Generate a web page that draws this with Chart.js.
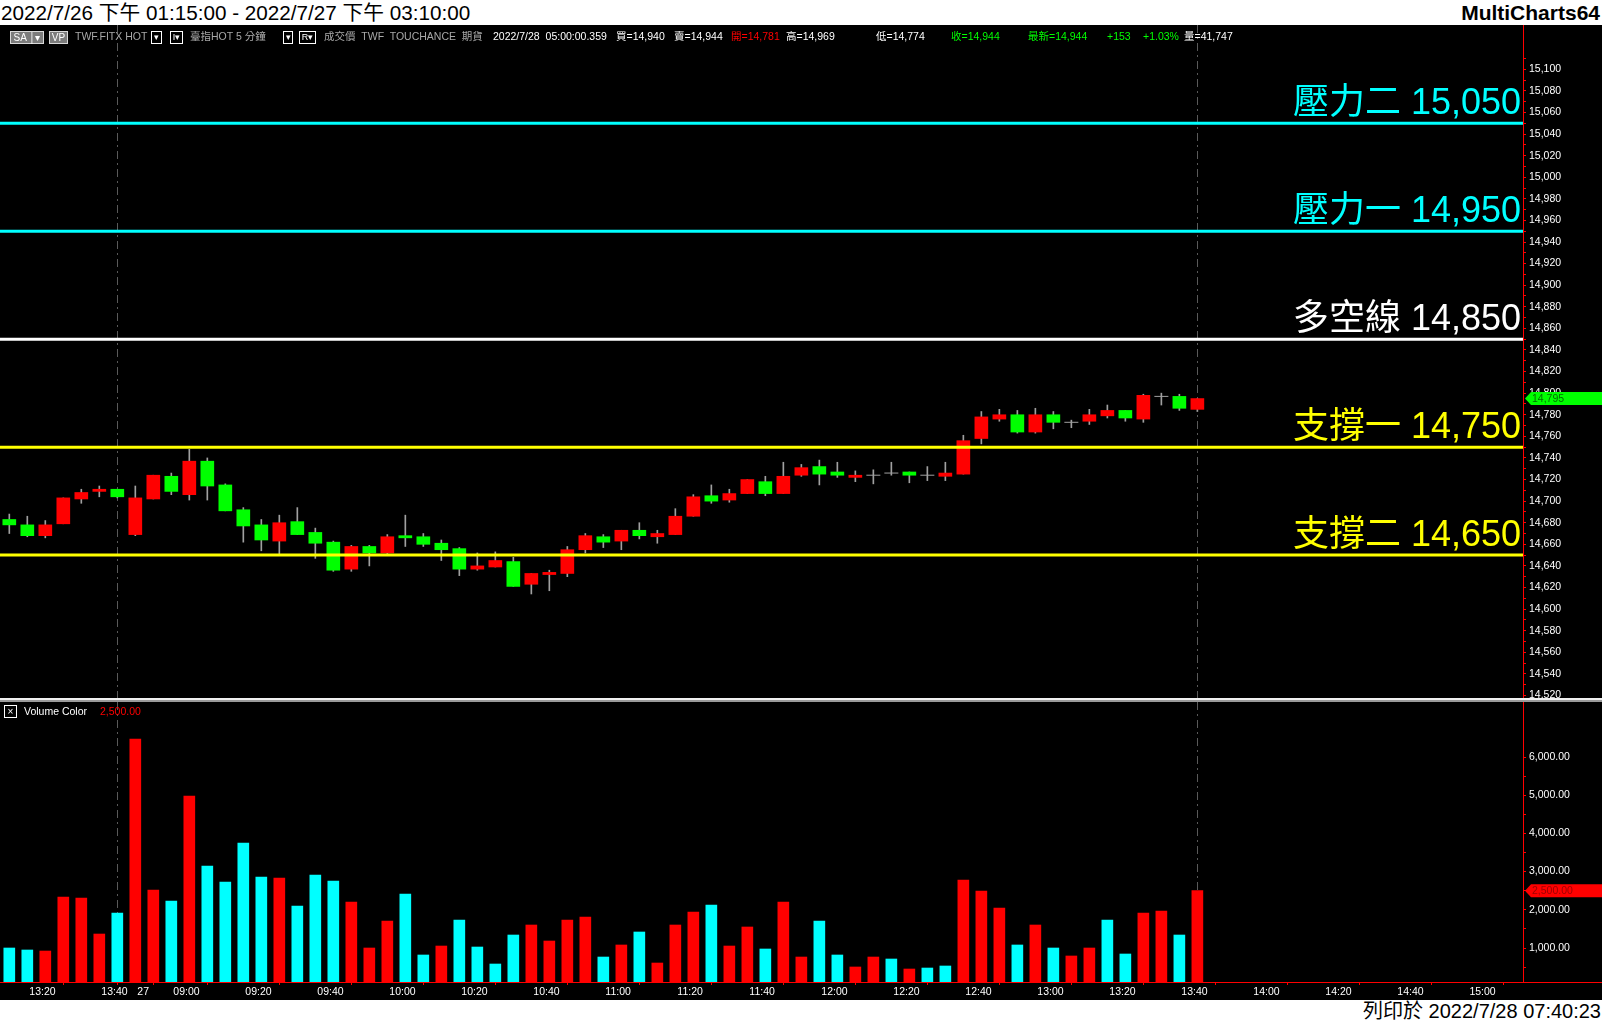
<!DOCTYPE html>
<html><head><meta charset="utf-8">
<script src="https://cdn.jsdelivr.net/npm/chart.js@4.4.1/dist/chart.umd.min.js"></script>
<style>
html,body{margin:0;padding:0;background:#fff;}
#page{position:relative;width:1602px;height:1023px;overflow:hidden;background:#fff;font-family:"Liberation Sans","Noto Sans CJK TC",sans-serif;}
#black{position:absolute;left:0;top:25px;width:1602px;height:975px;background:#000;}
#title{position:absolute;left:1px;top:0;height:25px;line-height:25px;font-size:20.7px;color:#000;white-space:nowrap;}
#brand{position:absolute;right:2px;top:0;height:25px;line-height:25px;font-size:21px;font-weight:bold;color:#000;white-space:nowrap;}
#printed{position:absolute;right:1px;top:1000px;height:23px;line-height:23px;font-size:20px;color:#000;white-space:nowrap;}
#cp{position:absolute;left:0;top:25px;}
#cv{position:absolute;left:0;top:702px;}
#sep1{position:absolute;left:0;top:698px;width:1602px;height:2px;background:#f0f0f0;}
#sep2{position:absolute;left:0;top:700px;width:1602px;height:2px;background:#9a9a9a;}
.tt{position:absolute;top:30px;font-size:10.5px;line-height:13px;white-space:nowrap;color:#a8a8a8;}
.gbox{position:absolute;top:31px;height:11px;background:#7c7c7c;border:1px solid #d8d8d8;color:#fff;font-size:10px;line-height:11px;text-align:center;white-space:nowrap;}
.wbox{position:absolute;top:31px;height:11px;border:1px solid #fff;color:#fff;font-size:9px;line-height:11px;text-align:center;white-space:nowrap;}
.w{color:#fff}.r{color:#ff0000}.g{color:#00ff00}
#vlab{position:absolute;left:24px;top:705px;font-size:10.5px;line-height:13px;color:#fff;white-space:nowrap;}
#vval{position:absolute;left:100px;top:705px;font-size:10.5px;line-height:13px;color:#ff0000;white-space:nowrap;}
#vbox{position:absolute;left:4px;top:705px;width:11px;height:11px;border:1px solid #fff;color:#fff;font-size:10px;line-height:11px;text-align:center;}
</style></head>
<body>
<div id="page">
  <div id="black"></div>
  <div id="title">2022/7/26 下午 01:15:00 - 2022/7/27 下午 03:10:00</div>
  <div id="brand">MultiCharts64</div>
  <canvas id="cp" width="1602" height="673"></canvas>
  <div id="sep1"></div><div id="sep2"></div>
  <canvas id="cv" width="1602" height="298"></canvas>
  <div id="printed">列印於 2022/7/28 07:40:23</div>

  <div class="gbox" style="left:10px;width:32px;">SA │▾</div>
  <div class="gbox" style="left:49px;width:17px;">VP</div>
  <div class="tt" style="left:75px;">TWF.FITX HOT</div>
  <div class="wbox" style="left:151px;width:9px;">▾</div>
  <div class="wbox" style="left:170px;width:11px;">I▾</div>
  <div class="tt" style="left:190px;">臺指HOT 5 分鐘</div>
  <div class="wbox" style="left:283px;width:8px;">▾</div>
  <div class="wbox" style="left:299px;width:15px;">R▾</div>
  <div class="tt" style="left:324px;">成交價&nbsp; TWF&nbsp; TOUCHANCE&nbsp; 期貨</div>
  <div class="tt w" style="left:493px;">2022/7/28&nbsp; 05:00:00.359</div>
  <div class="tt w" style="left:616px;">買=14,940</div>
  <div class="tt w" style="left:674px;">賣=14,944</div>
  <div class="tt r" style="left:731px;">開=14,781</div>
  <div class="tt w" style="left:786px;">高=14,969</div>
  <div class="tt w" style="left:876px;">低=14,774</div>
  <div class="tt g" style="left:951px;">收=14,944</div>
  <div class="tt g" style="left:1028px;">最新=14,944</div>
  <div class="tt g" style="left:1107px;">+153</div>
  <div class="tt g" style="left:1143px;">+1.03%</div>
  <div class="tt w" style="left:1184px;">量=41,747</div>

  <div id="vbox">×</div>
  <div id="vlab">Volume Color</div>
  <div id="vval">2,500.00</div>
</div>
<script>
// ---------- DATA (5-minute bars, index 0 = 7/26 13:15) ----------
const opens  = [14683,14678,14668,14679,14702,14709,14711,14669,14702,14723,
                14706,14737,14715,14692,14678,14663,14681,14671,14662,14637,
                14658,14652,14668,14667,14661,14656,14637,14639,14644,14623,
                14632,14633,14655,14667,14663,14673,14667,14669,14686,14705,
                14701,14707,14718,14707,14724,14732,14727,14722,14724,14726,
                14727,14724,14723,14725,14758,14776,14780,14764,14780,14773,
                14774,14779,14784,14776,14797,14797,14785];
const highs  = [14688,14686,14682,14703,14711,14714,14711,14714,14724,14726,
                14748,14740,14716,14694,14683,14687,14694,14675,14663,14659,
                14659,14669,14687,14670,14664,14657,14652,14653,14648,14633,
                14636,14658,14670,14669,14673,14680,14673,14693,14706,14715,
                14711,14720,14723,14736,14734,14738,14736,14728,14729,14736,
                14727,14732,14736,14761,14783,14785,14784,14786,14783,14775,
                14785,14789,14784,14799,14800,14799,14795];
const lows   = [14670,14667,14666,14679,14698,14704,14703,14668,14702,14706,
                14701,14701,14691,14662,14654,14651,14669,14647,14635,14635,
                14640,14651,14658,14658,14645,14631,14636,14639,14621,14614,
                14617,14630,14652,14657,14655,14665,14661,14669,14686,14698,
                14699,14707,14705,14707,14723,14715,14722,14718,14716,14724,
                14717,14719,14719,14725,14753,14774,14763,14763,14767,14768,
                14771,14777,14774,14773,14789,14784,14783];
const closes = [14678,14668,14678,14703,14708,14711,14704,14703,14724,14709,
                14737,14714,14691,14677,14664,14680,14669,14661,14636,14658,
                14652,14667,14666,14660,14655,14637,14640,14645,14621,14633,
                14634,14655,14668,14662,14673,14668,14670,14686,14704,14700,
                14707,14720,14707,14723,14731,14725,14724,14724,14724,14726,
                14724,14724,14726,14756,14778,14780,14764,14780,14773,14773,
                14780,14784,14777,14798,14797,14786,14795];
const volumes = [1000,948,921,2335,2309,1366,1916,6471,2518,2230,
                 4979,3147,2728,3749,2859,2832,2099,2911,2754,2204,
                 1000,1707,2414,817,1052,1733,1026,581,1340,1602,
                 1183,1733,1812,764,1079,1419,607,1602,1942,2126,
                 1052,1550,974,2204,764,1707,817,503,764,712,
                 450,476,529,2780,2492,2047,1079,1602,1000,791,
                 1000,1733,843,1916,1969,1340,2500];
// 1 = red (up volume), 0 = cyan (down volume)
const volumeUp = [0,0,1,1,1,1,0,1,1,0, 1,0,0,0,0,1,0,0,0,1,
                  1,1,0,0,1,0,0,0,0,1, 1,1,1,0,1,0,1,1,1,0,
                  1,1,0,1,1,0,0,1,1,0, 1,0,0,1,1,1,0,1,0,1,
                  1,0,0,1,1,0,1];
const tickIdx    = [1,5,7,9,13,17,21,25,29,33,37,41,45,49,53,57,61,65,69,73,77,81];
const tickLabels = ['13:20','13:40','27','09:00','09:20','09:40','10:00','10:20','10:40','11:00','11:20',
                    '11:40','12:00','12:20','12:40','13:00','13:20','13:40','14:00','14:20','14:40','15:00'];
const levelNames  = ['壓力二','壓力一','多空線','支撐一','支撐二'];
const levelValues = [15050,14950,14850,14750,14650];
const levelColors = ['#00ffff','#00ffff','#ffffff','#ffff00','#ffff00'];
const dividerIdx  = [6,66];
const priceTicks  = []; for (let v = 14520; v <= 15110; v += 10) priceTicks.push(v);
const volumeTicks = []; for (let v = 500; v <= 6000; v += 500) volumeTicks.push(v);

// ---------- view ----------
const X_MIN = -0.517, X_MAX = 84.09;
const P_MIN = 14517.65, P_MAX = 15141.0;
const V_MIN = 110, V_MAX = 7440;
const UP = '#ff0000', DN = '#00ff00', WICK = '#a0a0a0', AXIS = '#ff0000';
const FONT = 'Liberation Sans';
const fmt = v => v.toLocaleString('en-US');

const idx = closes.map((_, i) => i);
const wickData = idx.map(i => ({x: i, y: [lows[i], highs[i]]}));
const bodyIdx = idx.filter(i => opens[i] !== closes[i]);
const bodyData = bodyIdx.map(i => ({x: i, y: [opens[i], closes[i]]}));
const bodyColors = bodyIdx.map(i => closes[i] > opens[i] ? UP : DN);
const dojiData = idx.filter(i => opens[i] === closes[i]).map(i => ({x: i, y: closes[i]}));

function zeroPad(s) { s.paddingTop = 0; s.paddingBottom = 0; s.paddingLeft = 0; s.paddingRight = 0; }

const dividerPlugin = {
  id: 'dividers',
  beforeDatasetsDraw(chart) {
    const {ctx, chartArea: a, scales: {x}} = chart;
    ctx.save();
    ctx.strokeStyle = '#5a5a5a'; ctx.lineWidth = 1; ctx.setLineDash([8, 4, 2, 4]);
    dividerIdx.forEach(i => {
      const px = Math.round(x.getPixelForValue(i)) + 0.5;
      ctx.beginPath(); ctx.moveTo(px, a.top); ctx.lineTo(px, a.bottom); ctx.stroke();
    });
    ctx.restore();
  }
};

function drawMarker(chart, value, text, bg, fg) {
  const {ctx, chartArea: a, scales: {y}} = chart;
  const py = y.getPixelForValue(value);
  const x0 = a.right + 2, x1 = chart.width, h = 13;
  ctx.save();
  ctx.fillStyle = bg;
  ctx.beginPath();
  ctx.moveTo(x0, py); ctx.lineTo(x0 + 6, py - h / 2); ctx.lineTo(x1, py - h / 2);
  ctx.lineTo(x1, py + h / 2); ctx.lineTo(x0 + 6, py + h / 2); ctx.closePath(); ctx.fill();
  ctx.fillStyle = fg; ctx.font = '10.5px "' + FONT + '"';
  ctx.textAlign = 'left'; ctx.textBaseline = 'middle';
  ctx.fillText(text, x0 + 7, py + 0.5);
  ctx.restore();
}

const levelPlugin = {
  id: 'levels',
  afterDatasetsDraw(chart) {
    const {ctx, chartArea: a, scales: {y}} = chart;
    ctx.save();
    ctx.font = '36px "Liberation Sans","Noto Sans CJK TC"';
    ctx.textAlign = 'right'; ctx.textBaseline = 'alphabetic';
    levelValues.forEach((v, k) => {
      ctx.fillStyle = levelColors[k];
      ctx.fillText(levelNames[k] + ' ' + fmt(v), a.right - 2, y.getPixelForValue(v) - 9);
    });
    ctx.restore();
  },
  afterDraw(chart) {
    drawMarker(chart, closes[closes.length - 1], fmt(closes[closes.length - 1]), '#00ff00', '#007000');
  }
};

const volMarkerPlugin = {
  id: 'volmarker',
  afterDraw(chart) {
    const {ctx, chartArea: a} = chart;
    ctx.save(); ctx.strokeStyle = AXIS; ctx.lineWidth = 1;
    ctx.beginPath(); ctx.moveTo(a.right, Math.round(a.bottom) + 0.5); ctx.lineTo(chart.width, Math.round(a.bottom) + 0.5); ctx.stroke();
    ctx.restore();
    const last = volumes[volumes.length - 1];
    drawMarker(chart, last, last.toLocaleString('en-US', {minimumFractionDigits: 2}), '#ff0000', '#a00000');
  }
};

const yAxisCommon = {
  position: 'right',
  grid: {drawOnChartArea: false, color: AXIS, tickLength: 3, lineWidth: 1},
  border: {display: true, color: AXIS, width: 1},
  afterFit(s) { s.width = 79; zeroPad(s); }
};

// ---------- price chart ----------
new Chart(document.getElementById('cp'), {
  type: 'bar',
  data: {
    datasets: [
      {type: 'bar', data: wickData, backgroundColor: WICK, barThickness: 1, grouped: false, order: 4},
      {type: 'bar', data: bodyData, backgroundColor: bodyColors, barThickness: 13, grouped: false, order: 3},
      {type: 'scatter', data: dojiData, pointStyle: 'line', pointRadius: 7, borderColor: WICK, borderWidth: 1, order: 2},
      ...levelValues.map((v, k) => ({
        type: 'line', data: [{x: X_MIN, y: v}, {x: X_MAX, y: v}],
        borderColor: levelColors[k], borderWidth: 3, pointRadius: 0, order: 1
      }))
    ]
  },
  options: {
    responsive: false, animation: false, maintainAspectRatio: false,
    layout: {padding: 0, autoPadding: false},
    plugins: {legend: {display: false}, tooltip: {enabled: false}},
    scales: {
      x: {type: 'linear', min: X_MIN, max: X_MAX, display: false, offset: false},
      y: Object.assign({}, yAxisCommon, {
        type: 'linear', min: P_MIN, max: P_MAX,
        afterBuildTicks(s) { s.ticks = priceTicks.map(v => ({value: v})); },
        ticks: {color: '#ffffff', padding: 3, autoSkip: false, font: {family: FONT, size: 10.5},
                callback: v => (v % 20 === 0 ? fmt(v) : '')}
      })
    }
  },
  plugins: [dividerPlugin, levelPlugin]
});

// ---------- volume chart ----------
new Chart(document.getElementById('cv'), {
  type: 'bar',
  data: {
    datasets: [{
      data: volumes.map((v, i) => ({x: i, y: v})),
      backgroundColor: volumeUp.map(u => (u ? '#ff0000' : '#00ffff')),
      barThickness: 11, grouped: false
    }]
  },
  options: {
    responsive: false, animation: false, maintainAspectRatio: false,
    layout: {padding: 0, autoPadding: false},
    plugins: {legend: {display: false}, tooltip: {enabled: false}},
    scales: {
      x: {
        type: 'linear', min: X_MIN, max: X_MAX, offset: false, position: 'bottom',
        grid: {drawOnChartArea: false, color: AXIS, tickLength: 3},
        border: {display: true, color: AXIS, width: 1},
        afterBuildTicks(s) { s.ticks = tickIdx.map(v => ({value: v})); },
        afterFit(s) { s.height = 18; zeroPad(s); },
        ticks: {color: '#ffffff', padding: 1, autoSkip: false, maxRotation: 0, minRotation: 0,
                align: 'start', labelOffset: 2, font: {family: FONT, size: 10.5},
                callback: v => { const k = tickIdx.indexOf(v); return k >= 0 ? tickLabels[k] : ''; }}
      },
      y: Object.assign({}, yAxisCommon, {
        type: 'linear', min: V_MIN, max: V_MAX,
        afterBuildTicks(s) { s.ticks = volumeTicks.map(v => ({value: v})); },
        ticks: {color: '#ffffff', padding: 3, autoSkip: false, font: {family: FONT, size: 10.5},
                callback: v => (v % 1000 === 0 ? v.toLocaleString('en-US', {minimumFractionDigits: 2}) : '')}
      })
    }
  },
  plugins: [dividerPlugin, volMarkerPlugin]
});
</script>
</body></html>
